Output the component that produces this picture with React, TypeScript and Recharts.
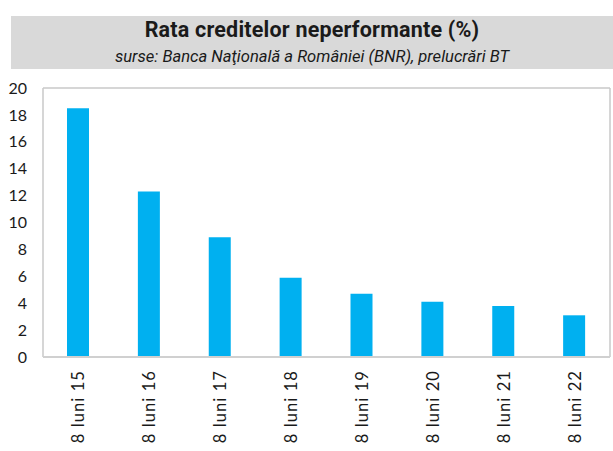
import { BarChart, Bar, XAxis, YAxis, CartesianGrid } from "recharts";

const categories = ["8 luni 15", "8 luni 16", "8 luni 17", "8 luni 18", "8 luni 19", "8 luni 20", "8 luni 21", "8 luni 22"];
const rates = [18.5, 12.3, 8.9, 5.9, 4.7, 4.1, 3.8, 3.1];
const yTicks = [0, 2, 4, 6, 8, 10, 12, 14, 16, 18, 20];

const data = categories.map((name, i) => ({ name, rate: rates[i] }));

const FONT = "Lato, 'Open Sans', sans-serif";

function RotatedTick({ x, y, payload }: any) {
  return (
    <text
      x={0}
      y={0}
      transform={`translate(${x}, ${y + 5}) rotate(-90)`}
      textAnchor="end"
      dominantBaseline="central"
      fontSize={16.5}
      letterSpacing={1.1}
      fontFamily={FONT}
      fill="#1a1a1a"
    >
      {payload.value}
    </text>
  );
}

export default function App() {
  return (
    <div style={{ position: "absolute", left: 0, top: 0, width: 613, height: 451, background: "#fff" }}>
      <div
        style={{
          position: "absolute",
          left: 11,
          top: 16,
          width: 602,
          height: 53,
          background: "#d9d9d9",
          textAlign: "center",
          color: "#1a1a1a",
          fontFamily: "Roboto, sans-serif",
        }}
      >
        <div style={{ fontSize: 21.5, fontWeight: 700, lineHeight: "24px", marginTop: 2, letterSpacing: 0.2 }}>
          Rata creditelor neperformante (%)
        </div>
        <div style={{ fontSize: 16.6, fontStyle: "italic", lineHeight: "20px", marginTop: 5 }}>
          surse: Banca Naţională a României (BNR), prelucrări BT
        </div>
      </div>
      <div style={{ position: "absolute", left: 0, top: 0 }}>
        <BarChart width={613} height={451} data={data} margin={{ top: 88, right: 3, bottom: 0, left: 0 }} barCategoryGap={0}>
          <CartesianGrid
            stroke="#c9c9c9"
            strokeWidth={1.5}
            horizontalCoordinatesGenerator={({ offset }: any) => [offset.top, offset.top + offset.height]}
            verticalCoordinatesGenerator={({ offset }: any) => [offset.left, offset.left + offset.width]}
          />
          <XAxis
            dataKey="name"
            height={94}
            interval={0}
            tick={<RotatedTick />}
            tickLine={false}
            axisLine={{ stroke: "#d0d0d0", strokeWidth: 2 }}
          />
          <YAxis
            domain={[0, 20]}
            ticks={yTicks}
            interval={0}
            width={43}
            tickLine={false}
            axisLine={false}
            tickSize={8}
            tickMargin={8}
            tick={{ fontSize: 16, fontFamily: FONT, fill: "#1a1a1a" }}
          />
          <Bar dataKey="rate" fill="#00b0f0" barSize={22} isAnimationActive={false} />
        </BarChart>
      </div>
    </div>
  );
}
